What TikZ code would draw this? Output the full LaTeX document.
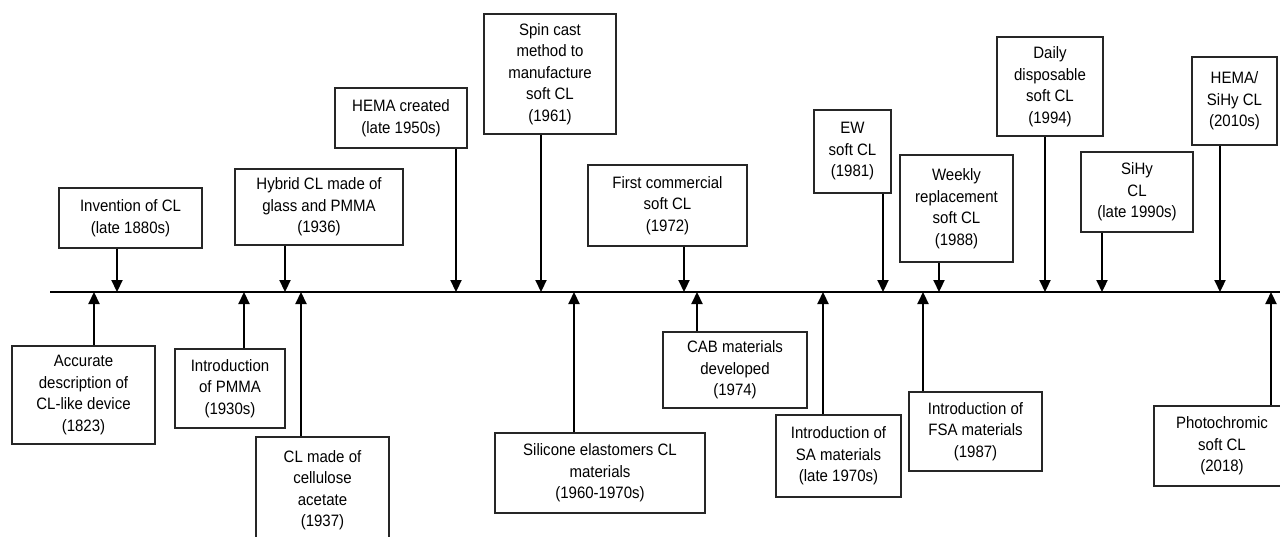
\documentclass[tikz,border=0pt]{standalone}
\usepackage{fontspec}
\setmainfont[FakeStretch=0.91]{Liberation Sans}
\usetikzlibrary{arrows.meta}
\tikzset{
  evbox/.style={draw=black!85, line width=1.3pt, fill=white, align=center, inner sep=0pt,
    font=\fontsize{16.5}{21.5}\selectfont},
  evarr/.style={line width=2.2pt, -{Triangle[width=11pt,length=12pt]}},
  axis/.style={line width=1.5pt}
}
\newcommand\evt[6]{\node[evbox, minimum width={#4-#2}, minimum height={#5-#3}] (#1) at ({(#2+#4)/2},{(#3+#5)/2}) {#6};}
\begin{document}
\begin{tikzpicture}[x=1pt,y=-1pt]
\useasboundingbox (0,0) rectangle (1280,536);
\clip (0,0) rectangle (1280,536);
\coordinate (L) at (50,292);
\coordinate (R) at (1282,292);
\draw[axis] (L) -- (R);
% above
\evt{inv}{59}{188}{202}{248}{Invention of CL\\(late 1880s)}
\evt{hyb}{235}{169}{403}{245}{Hybrid CL made of\\glass and PMMA\\(1936)}
\evt{hema}{335}{88}{467}{148}{HEMA created\\(late 1950s)}
\evt{spin}{484}{14}{616}{134}{Spin cast\\method to\\manufacture\\soft CL\\(1961)}
\evt{first}{588}{165}{747}{246}{First commercial\\soft CL\\(1972)}
\evt{ew}{814}{110}{891}{193}{EW\\soft CL\\(1981)}
\evt{week}{900}{155}{1013}{262}{Weekly\\replacement\\soft CL\\(1988)}
\evt{daily}{997}{37}{1103}{136}{Daily\\disposable\\soft CL\\(1994)}
\evt{sihy}{1081}{152}{1193}{232}{SiHy\\CL\\(late 1990s)}
\evt{hs}{1192}{57}{1277}{145}{HEMA/\\SiHy CL\\(2010s)}
% below
\evt{acc}{12}{346}{155}{444}{Accurate\\description of\\CL-like device\\(1823)}
\evt{pmma}{175}{349}{285}{428}{Introduction\\of PMMA\\(1930s)}
\evt{cell}{256}{437}{389}{543}{CL made of\\cellulose\\acetate\\(1937)}
\evt{sil}{495}{433}{705}{513}{Silicone elastomers CL\\materials\\(1960-1970s)}
\evt{cab}{663}{332}{807}{408}{CAB materials\\developed\\(1974)}
\evt{sa}{776}{415}{901}{497}{Introduction of\\SA materials\\(late 1970s)}
\evt{fsa}{909}{392}{1042}{471}{Introduction of\\FSA materials\\(1987)}
\evt{photo}{1154}{406}{1290}{486}{Photochromic\\soft CL\\(2018)}
% points on the axis
\foreach \n/\x in {inv/117,hyb/285,hema/456,spin/541,first/684,ew/883,week/939,daily/1045,sihy/1102,hs/1220}{
  \coordinate (p\n) at (\x,292);
  \draw[evarr] (\n.south -| p\n) -- (p\n);
}
\foreach \n/\x in {acc/94,pmma/244,cell/301,sil/574,cab/697,sa/823,fsa/923,photo/1271}{
  \coordinate (p\n) at (\x,292);
  \draw[evarr] (\n.north -| p\n) -- (p\n);
}
\end{tikzpicture}
\end{document}
